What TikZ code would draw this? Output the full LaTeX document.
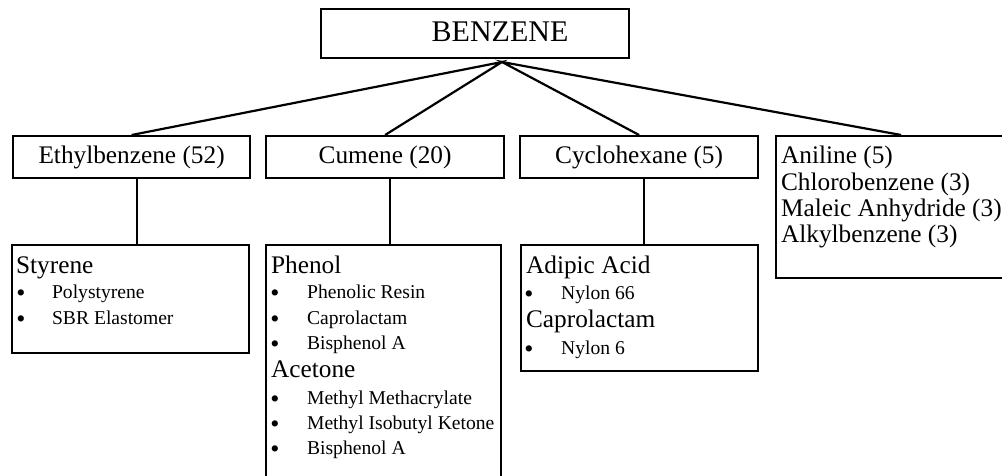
\documentclass[tikz,border=0pt]{standalone}
\usepackage{fontspec}
\setmainfont{Liberation Serif}
\usetikzlibrary{calc}
\tikzset{
  every picture/.style={line width=2.2pt},
  bx/.style={draw=black,rectangle,anchor=north west,inner sep=0pt},
  big/.style={anchor=base,inner sep=0pt,font=\fontsize{30}{36}\selectfont},
  hd/.style={anchor=base west,inner sep=0pt,font=\fontsize{25.3}{30}\selectfont},
  hdc/.style={hd,anchor=base},
  itm/.style={anchor=base west,inner sep=0pt,font=\fontsize{19.6}{24}\selectfont},
  bul/.style={anchor=base,inner sep=0pt,yshift=-3pt,font=\fontsize{26}{30}\selectfont},
  ln/.style={draw=black},
}
\begin{document}
\begin{tikzpicture}[x=1pt,y=-1pt]
  \clip (0,0) rectangle (1002,476);
  % top
  \node[bx,minimum width=308pt,minimum height=49pt] (benz) at (320,8) {};
  \node[big] (benzlab) at (500,42) {BENZENE};
  \coordinate (apex) at (502,62);
  % first row
  \node[bx,minimum width=237pt,minimum height=42pt] (eth) at (12,135) {};
  \node[bx,minimum width=238pt,minimum height=42pt] (cum) at (265,135) {};
  \node[bx,minimum width=238pt,minimum height=42pt] (cyc) at (519,135) {};
  \node[bx,minimum width=250pt,minimum height=142pt] (ani) at (775,135) {};
  \node[hdc] (ethlab) at ($(eth.north)+(0,29)$) {Ethylbenzene (52)};
  \node[hdc] (cumlab) at ($(cum.north)+(0,29)$) {Cumene (20)};
  \node[hdc] (cyclab) at ($(cyc.north)+(0,29)$) {Cyclohexane (5)};
  \foreach \t [count=\i] in {Aniline (5),Chlorobenzene (3),Maleic Anhydride (3),Alkylbenzene (3)}
    \node[hd] (ani-\i) at (780,138+26*\i) {\t};
  \draw[ln] (eth.north) -- (apex) -- (cum.north);
  \draw[ln] (cyc.north) -- (apex) -- (ani.north);
  % second row
  \node[bx,minimum width=237pt,minimum height=108pt] (sty) at (11,244) {};
  \node[bx,minimum width=235pt,minimum height=260pt] (phe) at (265,244) {};
  \node[bx,minimum width=237pt,minimum height=126pt] (adi) at (520,244) {};
  \draw[ln] ([xshift=5pt]eth.south) -- ([xshift=5pt]eth.south |- sty.north);
  \draw[ln] ([xshift=5pt]cum.south) -- ([xshift=5pt]cum.south |- phe.north);
  \draw[ln] ([xshift=5pt]cyc.south) -- ([xshift=5pt]cyc.south |- adi.north);
  % styrene
  \node[hd] (styh) at (15,273) {Styrene};
  \foreach \t [count=\i] in {Polystyrene,SBR Elastomer}{
    \node[bul] (styb-\i) at (21,273+25.5*\i) {\textbullet};
    \node[itm] (styi-\i) at (51,273+25.5*\i) {\t};
  }
  % phenol / acetone
  \node[hd] (pheh) at (270,273) {Phenol};
  \foreach \t [count=\i] in {Phenolic Resin,Caprolactam,Bisphenol A}{
    \node[bul] (pheb-\i) at (275,273+25.5*\i) {\textbullet};
    \node[itm] (phei-\i) at (306,273+25.5*\i) {\t};
  }
  \node[hd] (aceh) at (270,377) {Acetone};
  \foreach \t [count=\i] in {Methyl Methacrylate,Methyl Isobutyl Ketone,Bisphenol A}{
    \node[bul] (aceb-\i) at (275,379+25.3*\i) {\textbullet};
    \node[itm] (acei-\i) at (306,379+25.3*\i) {\t};
  }
  % adipic acid / caprolactam
  \node[hd] (adih) at (525,273) {Adipic Acid};
  \node[bul] (adib) at (529,299) {\textbullet};
  \node[itm] (adii) at (560,299) {Nylon 66};
  \node[hd] (caph) at (525,327) {Caprolactam};
  \node[bul] (capb) at (529,354) {\textbullet};
  \node[itm] (capi) at (560,354) {Nylon 6};
\end{tikzpicture}
\end{document}
